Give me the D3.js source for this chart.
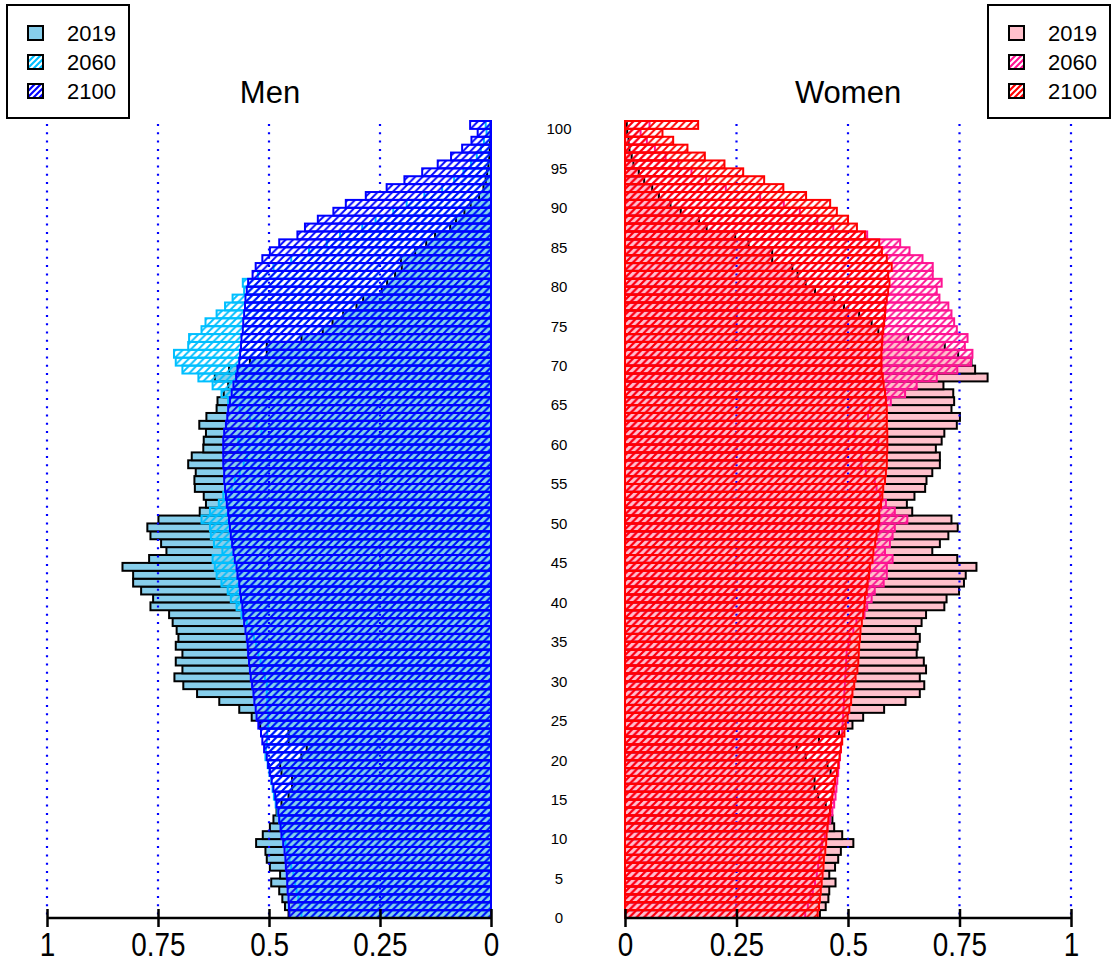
<!DOCTYPE html>
<html>
<head>
<meta charset="utf-8">
<script src="https://cdn.jsdelivr.net/npm/d3@7"></script>
<style>
  body { margin: 0; background: #fff; }
  svg { display: block; font-family: "Liberation Sans", Arial, sans-serif; }
</style>
</head>
<body>
<div id="chart"></div>
<script>
// ---- data (share of population by single year of age, 0..100+) ----
const ages = d3.range(0, 101);
const years = ["2019", "2060", "2100"];
const tickVals = [0, 0.25, 0.5, 0.75, 1];
const ageLabels = d3.range(0, 101, 5);

const men2019 = [0.456,0.464,0.470,0.477,0.495,0.475,0.498,0.505,0.508,0.529,
  0.514,0.498,0.490,0.483,0.472,0.456,0.448,0.448,0.472,0.475,
  0.427,0.415,0.456,0.456,0.520,0.539,0.567,0.612,0.662,0.693,
  0.713,0.695,0.710,0.695,0.710,0.704,0.708,0.717,0.725,0.767,
  0.761,0.788,0.806,0.806,0.830,0.770,0.731,0.743,0.767,0.774,
  0.749,0.656,0.642,0.647,0.667,0.668,0.665,0.682,0.674,0.648,
  0.647,0.642,0.657,0.641,0.618,0.616,0.602,0.592,0.622,0.590,
  0.543,0.505,0.505,0.427,0.379,0.357,0.333,0.303,0.288,0.246,
  0.234,0.216,0.201,0.203,0.171,0.146,0.126,0.092,0.079,0.060,
  0.046,0.027,0.017,0.012,0.009,0.006,0.004,0.003,0.002,0.001,
  0.001];

const men2060 = [0.427,0.430,0.434,0.438,0.441,0.445,0.450,0.454,0.459,0.463,
  0.468,0.472,0.477,0.481,0.485,0.489,0.492,0.495,0.499,0.503,
  0.508,0.507,0.505,0.504,0.502,0.502,0.503,0.504,0.505,0.505,
  0.509,0.513,0.519,0.524,0.529,0.534,0.539,0.550,0.562,0.573,
  0.586,0.593,0.607,0.618,0.622,0.627,0.605,0.624,0.631,0.633,
  0.652,0.633,0.613,0.603,0.584,0.577,0.566,0.557,0.550,0.566,
  0.569,0.517,0.528,0.543,0.566,0.592,0.607,0.627,0.659,0.695,
  0.710,0.714,0.682,0.680,0.652,0.643,0.618,0.599,0.582,0.556,
  0.559,0.525,0.490,0.450,0.410,0.370,0.340,0.290,0.260,0.220,
  0.190,0.150,0.110,0.083,0.062,0.045,0.032,0.023,0.016,0.010,
  0.012];

const men2100 = [0.454,0.455,0.456,0.458,0.459,0.460,0.462,0.463,0.465,0.468,
  0.472,0.474,0.477,0.479,0.483,0.486,0.490,0.494,0.498,0.502,
  0.505,0.511,0.515,0.518,0.524,0.528,0.530,0.533,0.535,0.538,
  0.541,0.543,0.545,0.547,0.548,0.550,0.553,0.556,0.558,0.560,
  0.563,0.565,0.567,0.571,0.573,0.577,0.580,0.583,0.586,0.588,
  0.590,0.592,0.595,0.597,0.599,0.601,0.601,0.603,0.603,0.603,
  0.603,0.601,0.597,0.594,0.592,0.588,0.584,0.580,0.574,0.571,
  0.567,0.565,0.563,0.562,0.559,0.558,0.556,0.554,0.553,0.550,
  0.547,0.537,0.530,0.515,0.498,0.477,0.436,0.419,0.390,0.355,
  0.327,0.282,0.235,0.195,0.155,0.120,0.090,0.065,0.044,0.030,
  0.047];

const women2019 = [0.437,0.450,0.456,0.458,0.472,0.458,0.471,0.478,0.484,0.512,
  0.487,0.469,0.465,0.460,0.450,0.433,0.425,0.425,0.461,0.454,
  0.405,0.385,0.435,0.480,0.510,0.534,0.581,0.629,0.661,0.671,
  0.661,0.675,0.670,0.654,0.656,0.661,0.652,0.665,0.675,0.716,
  0.721,0.749,0.760,0.764,0.788,0.745,0.689,0.706,0.725,0.746,
  0.732,0.644,0.632,0.649,0.673,0.676,0.689,0.706,0.706,0.697,
  0.710,0.716,0.744,0.751,0.732,0.738,0.736,0.714,0.813,0.785,
  0.777,0.747,0.717,0.635,0.568,0.553,0.525,0.491,0.469,0.426,
  0.405,0.387,0.375,0.330,0.330,0.277,0.247,0.183,0.166,0.125,
  0.102,0.076,0.061,0.043,0.031,0.019,0.015,0.010,0.008,0.005,
  0.004];

const women2060 = [0.404,0.410,0.416,0.421,0.426,0.430,0.433,0.436,0.439,0.442,
  0.448,0.454,0.460,0.465,0.469,0.472,0.474,0.476,0.478,0.480,
  0.482,0.484,0.486,0.487,0.488,0.489,0.490,0.491,0.492,0.493,
  0.494,0.495,0.496,0.497,0.501,0.504,0.512,0.519,0.537,0.543,
  0.553,0.560,0.580,0.587,0.587,0.600,0.583,0.594,0.600,0.605,
  0.633,0.605,0.585,0.572,0.564,0.560,0.540,0.530,0.530,0.564,
  0.568,0.515,0.500,0.545,0.550,0.596,0.628,0.654,0.699,0.745,
  0.776,0.779,0.762,0.768,0.744,0.738,0.732,0.725,0.705,0.699,
  0.710,0.690,0.690,0.667,0.638,0.617,0.543,0.467,0.431,0.392,
  0.356,0.303,0.226,0.182,0.149,0.120,0.091,0.067,0.049,0.035,
  0.055];

const women2100 = [0.432,0.435,0.437,0.439,0.441,0.443,0.445,0.446,0.449,0.451,
  0.452,0.454,0.456,0.460,0.462,0.465,0.468,0.471,0.475,0.478,
  0.481,0.484,0.487,0.492,0.495,0.499,0.503,0.507,0.510,0.514,
  0.517,0.521,0.523,0.524,0.525,0.527,0.528,0.531,0.534,0.537,
  0.538,0.542,0.544,0.547,0.549,0.555,0.557,0.561,0.564,0.568,
  0.570,0.570,0.574,0.577,0.579,0.583,0.585,0.587,0.587,0.588,
  0.588,0.588,0.587,0.587,0.587,0.585,0.583,0.580,0.578,0.575,
  0.575,0.575,0.576,0.577,0.579,0.581,0.583,0.584,0.587,0.590,
  0.593,0.590,0.598,0.587,0.576,0.570,0.538,0.520,0.500,0.475,
  0.460,0.406,0.355,0.312,0.265,0.223,0.179,0.140,0.108,0.084,
  0.164];

// ---- layout ----
const W = 1117, H = 963;
const svg = d3.select("#chart").append("svg").attr("width", W).attr("height", H);

const y = d3.scaleLinear().domain([0, 101]).range([918, 121]);
const xMen = d3.scaleLinear().domain([0, 1]).range([491, 47]);
const xWomen = d3.scaleLinear().domain([0, 1]).range([625, 1071]);

// hatch patterns
const defs = svg.append("defs");
function hatch(id, color, s, sw) {
    const p = defs.append("pattern")
        .attr("id", id)
        .attr("patternUnits", "userSpaceOnUse")
        .attr("width", s).attr("height", s);
    p.append("path")
        .attr("d", `M0,${s} L${s},0 M${-s / 2},${s / 2} L${s / 2},${-s / 2} M${s / 2},${s * 1.5} L${s * 1.5},${s / 2}`)
        .attr("stroke", color)
        .attr("stroke-width", sw)
        .attr("fill", "none");
}
hatch("hMen60", "#00BFFF", 7.4, 1.9);
hatch("hMen00", "#0000FF", 7.4, 1.9);
hatch("hWom60", "#FF1493", 7.4, 1.9);
hatch("hWom00", "#FF0000", 7.4, 1.9);
hatch("lMen60", "#00BFFF", 6, 2.2);
hatch("lMen00", "#0000FF", 6, 2.2);
hatch("lWom60", "#FF1493", 6, 2.2);
hatch("lWom00", "#FF0000", 6, 2.2);

function drawPanel(x, series, solid, hatchIds, lineCols, title, titleX) {
    const g = svg.append("g");
    const x0 = x(0);

    // 2019: solid bars with black border
    g.append("g").selectAll("rect")
        .data(ages)
        .enter().append("rect")
        .attr("x", a => Math.min(x0, x(series[0][a])))
        .attr("width", a => Math.abs(x(series[0][a]) - x0))
        .attr("y", a => y(a + 1))
        .attr("height", a => y(a) - y(a + 1))
        .attr("fill", solid)
        .attr("stroke", "#000")
        .attr("stroke-width", 2);

    // dotted grid lines
    g.append("g").selectAll("line")
        .data(tickVals.filter(v => v > 0))
        .enter().append("line")
        .attr("x1", d => x(d)).attr("x2", d => x(d))
        .attr("y1", 124).attr("y2", 918)
        .attr("stroke", "#0000FF")
        .attr("stroke-width", 2.2)
        .attr("stroke-dasharray", "2,6.3");

    // 2060 and 2100: hatched bars
    [1, 2].forEach(k => {
        g.append("g").selectAll("rect")
            .data(ages)
            .enter().append("rect")
            .attr("x", a => Math.min(x0, x(series[k][a])))
            .attr("width", a => Math.abs(x(series[k][a]) - x0))
            .attr("y", a => y(a + 1))
            .attr("height", a => y(a) - y(a + 1))
            .attr("fill", `url(#${hatchIds[k - 1]})`)
            .attr("stroke", lineCols[k - 1])
            .attr("stroke-width", 2);
    });

    // bottom axis
    const axis = g.append("g")
        .attr("transform", "translate(0,918)")
        .call(d3.axisBottom(x).tickValues(tickVals).tickFormat(d3.format("")).tickSize(9));
    axis.select(".domain").remove();
    axis.append("line")
        .attr("x1", x(0)).attr("x2", x(1))
        .attr("stroke", "#000").attr("stroke-width", 2.5);
    axis.selectAll(".tick line")
        .attr("y1", -9).attr("y2", 9)
        .attr("stroke", "#000").attr("stroke-width", 2.5);
    axis.selectAll(".tick text")
        .attr("y", 14)
        .attr("fill", "#000")
        .attr("transform", "scale(0.82,1)")
        .style("font-family", "'Liberation Sans', Arial, sans-serif")
        .style("font-size", "34px");

    // title
    svg.append("text")
        .attr("x", titleX).attr("y", 103)
        .attr("text-anchor", "middle")
        .style("font-size", "31px")
        .text(title);
}

drawPanel(xMen, [men2019, men2060, men2100], "#87CEEB",
    ["hMen60", "hMen00"], ["#00BFFF", "#0000FF"], "Men", 270);
drawPanel(xWomen, [women2019, women2060, women2100], "#FFC0CB",
    ["hWom60", "hWom00"], ["#FF1493", "#FF0000"], "Women", 848);

// age labels in the middle
svg.append("g").selectAll("text")
    .data(ageLabels)
    .enter().append("text")
    .attr("x", 559)
    .attr("y", a => y(a))
    .attr("dy", "0.36em")
    .attr("text-anchor", "middle")
    .style("font-size", "15px")
    .text(a => a);

// legends
function legend(x0, fills) {
    const g = svg.append("g");
    g.append("rect")
        .attr("x", x0).attr("y", 5)
        .attr("width", 122).attr("height", 113)
        .attr("fill", "#fff")
        .attr("stroke", "#000").attr("stroke-width", 2);
    const row = g.selectAll("g.row")
        .data(years)
        .enter().append("g")
        .attr("transform", (d, i) => `translate(${x0 + 21},${33 + i * 29})`);
    row.append("rect")
        .attr("x", 0).attr("y", -7)
        .attr("width", 15).attr("height", 14)
        .attr("fill", (d, i) => fills[i])
        .attr("stroke", "#000").attr("stroke-width", 2);
    row.append("text")
        .attr("x", 39).attr("y", 0)
        .attr("dy", "0.36em")
        .style("font-size", "22px")
        .text(d => d);
}
legend(7, ["#87CEEB", "url(#lMen60)", "url(#lMen00)"]);
legend(988, ["#FFC0CB", "url(#lWom60)", "url(#lWom00)"]);
</script>
</body>
</html>
